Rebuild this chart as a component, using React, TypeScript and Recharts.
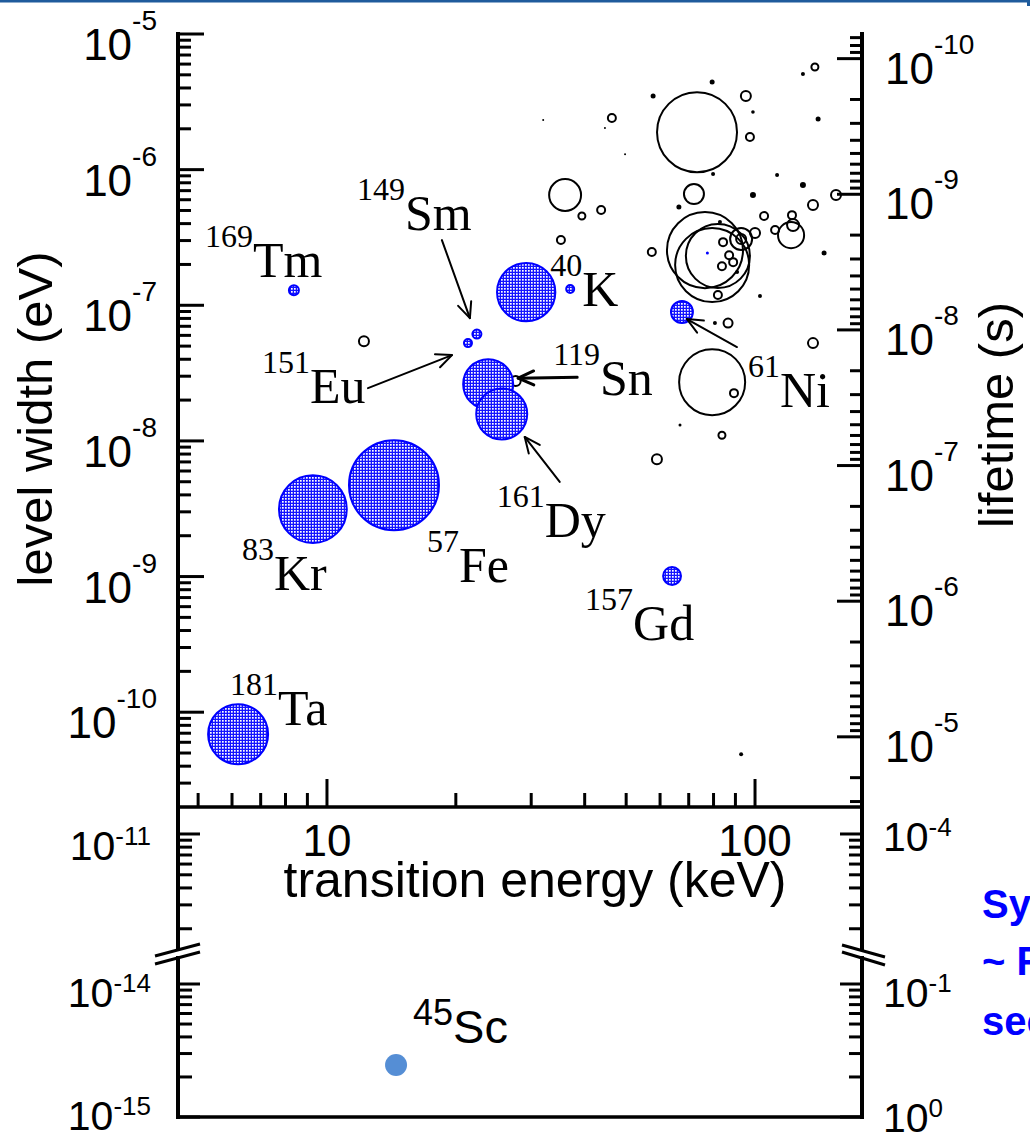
import React from 'react';
import { ScatterChart, Scatter, XAxis, YAxis, ZAxis, ReferenceDot, Label } from 'recharts';

// ---------------- values ----------------
// nuclear resonance isotopes (blue hatched bubbles), in drawing order
const ISO_ID = ['181Ta', '169Tm', '83Kr', '57Fe', '151Eu', '149Sm', '119Sn', '161Dy', '40K', '121Sb', '157Gd', '61Ni'];
const ISO_MASS = ['181', '169', '83', '57', '151', '149', '119', '161', '40', '', '157', '61'];
const ISO_SYMBOL = ['Ta', 'Tm', 'Kr', 'Fe', 'Eu', 'Sm', 'Sn', 'Dy', 'K', '', 'Gd', 'Ni'];
const ISO_ENERGY_KEV = [6.2, 8.37, 9.27, 14.34, 21.35, 22.4, 23.8, 25.6, 29.2, 37.0, 64.0, 67.5];
const ISO_WIDTH_EV = [6.88e-11, 1.29e-7, 3.14e-9, 4.72e-9, 5.26e-8, 6.13e-8, 2.62e-8, 1.58e-8, 1.25e-7, 1.32e-7, 1.01e-9, 8.91e-8];
const ISO_STRENGTH = [36, 1, 46, 81, 0.64, 0.81, 25, 26, 34, 0.64, 3.2, 4.8];

// other transitions, open circles
const OPEN_ENERGY_KEV = [73.2, 36.0, 46.3, 39.4, 43.7, 35.2, 57.4, 72.0, 95.2, 97.3, 138, 154.6, 136.6, 105, 122, 122.7, 121.4, 111.4, 100, 92.8, 92.8, 84.2, 87.0, 88.9, 83.7, 81.9, 86.5, 136.6, 79.4, 89.3, 83.7, 12.2, 59.0, 27.6, 76.4, 79.4, 81.9];
const OPEN_WIDTH_EV = [1.89e-6, 6.5e-7, 2.4e-6, 4.55e-7, 5.04e-7, 3.03e-7, 2.47e-7, 6.61e-7, 3.49e-6, 1.74e-6, 5.71e-6, 6.5e-7, 5.48e-7, 4.55e-7, 4.62e-7, 3.9e-7, 3.29e-7, 3.59e-7, 3.41e-7, 3.08e-7, 3.08e-7, 2.92e-7, 2.34e-7, 2.08e-7, 1.94e-7, 1.19e-7, 7.39e-8, 5.26e-8, 2.71e-8, 2.25e-8, 1.1e-8, 5.44e-8, 7.34e-9, 2.76e-8, 2.55e-7, 1.98e-7, 2.31e-7];
const OPEN_STRENGTH = [64, 10.2, 0.64, 0.49, 0.64, 0.64, 0.64, 4, 1, 0.64, 0.49, 1, 1, 0.64, 0.64, 1.44, 6.8, 0.64, 1, 4.84, 1, 0.64, 0.64, 0.64, 0.64, 0.64, 0.81, 1, 43.6, 0.64, 0.49, 1, 1, 1, 57.8, 54.8, 41];

// other transitions, filled dots
const DOT_ENERGY_KEV = [32.0, 57.8, 44.6, 49.7, 66.4, 79.4, 98.9, 140.4, 129.4, 79.8, 112.6, 98.9, 129.4, 82.8, 90.8, 145, 102.7, 80.6, 66.8, 92.8];
const DOT_WIDTH_EV = [2.32e-6, 3.49e-6, 2.03e-6, 1.3e-6, 5.3e-7, 4.43e-6, 2.66e-6, 2.36e-6, 5.07e-6, 9.28e-7, 9.12e-7, 6.5e-7, 7.7e-7, 4.11e-7, 1.76e-7, 2.43e-7, 1.17e-7, 7.39e-8, 1.31e-8, 4.9e-11];
const DOT_STRENGTH = [0.04, 0.25, 0.04, 0.04, 0.25, 0.25, 0.13, 0.25, 0.16, 0.16, 0.16, 0.36, 0.36, 0.16, 0.16, 0.25, 0.16, 0.16, 0.09, 0.16];

// tiny blue dot
const SPOT_ENERGY_KEV = [77.4];
const SPOT_WIDTH_EV = [2.43e-7];
const SPOT_STRENGTH = [0.09];

// 45Sc (below the axis break)
const SC_MASS = '45';
const SC_SYMBOL = 'Sc';
const SC_ENERGY_KEV = [14.5];
const SC_WIDTH_EV = [2.46e-15];
const SC_STRENGTH = [4.84];

// axes
const HBAR_EV_S = 6.582e-16;
const X_TICKS = [5, 6, 7, 8, 9, 10, 20, 30, 40, 50, 60, 70, 80, 90, 100];
const MULTS = [1, 2, 3, 4, 5, 6, 7, 8, 9];
const UPPER_DECADES = [-11, -10, -9, -8, -7, -6, -5];
const MID_DECADES = [-12, -11];
const LOW_DECADES = [-15, -14];
const X_TITLE = 'transition energy (keV)';
const Y_TITLE = 'level width (eV)';
const Y2_TITLE = 'lifetime (s)';
const SIDE_TEXT = ['Synchrotron', '~ Few', 'seconds'];

// ---------------- layout / style ----------------
const W = 1030;
const H = 1137;
const PLOT_L = 178;
const PLOT_R = 862;
const UP_TOP = 34;
const UP_BOTTOM = 807;
const MID_BOTTOM = 951;
const LOW_TOP = 958;
const LOW_BOTTOM = 1117;
const SANS = "'Liberation Sans', Arial, Helvetica, sans-serif";
const SERIF = "'Liberation Serif', 'Times New Roman', serif";
const BLUE = '#0000ff';

const X_DOMAIN: [number, number] = [4.487, 177.8];
const W_UP_DOMAIN: [number, number] = [2e-11, 1e-5];
const T_UP_DOMAIN: [number, number] = [HBAR_EV_S / W_UP_DOMAIN[1], HBAR_EV_S / W_UP_DOMAIN[0]];
const W_MID_DOMAIN: [number, number] = [Math.pow(10, -11.863), Math.pow(10, -10.801)];
const W_LOW_DOMAIN: [number, number] = [1e-15, Math.pow(10, -13.8045)];

const LABEL_LAYOUT: Record<string, { dx: number; dy: number; arrow?: number[]; aw?: number }> = {
  '169Tm': { dx: -89, dy: -13 },
  '149Sm': { dx: -120, dy: -104, arrow: [-35, -94, -7, -16] },
  '151Eu': { dx: -206, dy: 60, arrow: [-100, 45, -16, 12] },
  '119Sn': { dx: 65, dy: 11, arrow: [89, -7, 30, -6], aw: 3 },
  '40K': { dx: 24, dy: 14 },
  '61Ni': { dx: 66, dy: 95, arrow: [55, 35, 5, 7] },
  '161Dy': { dx: -5, dy: 123, arrow: [58, 68, 23, 23] },
  '57Fe': { dx: 33, dy: 97 },
  '83Kr': { dx: -71, dy: 81 },
  '157Gd': { dx: -87, dy: 64 },
  '181Ta': { dx: -8, dy: -9 },
};

const LOWER_LABEL_DY: Record<string, number> = { '-11': 26, '-14': 23, '-15': 13, '-4': 17, '-1': 23, '0': 15 };

// ---------------- helpers ----------------
const zip = (xs: number[], ys: number[], zs: number[]) => xs.map((x, i) => ({ x, y: ys[i], z: zs[i] }));

const isMajor = (v: number) => {
  const l = Math.log10(v);
  return Math.abs(l - Math.round(l)) < 1e-6;
};

const buildTicks = (decades: number[], lo: number, hi: number, inclLo = false) => {
  const out: number[] = [];
  decades.forEach((d) => MULTS.forEach((m) => {
    const v = m * Math.pow(10, d);
    const okLo = inclLo ? v >= lo * 0.9999 : v > lo * 1.0001;
    if (okLo && v <= hi * 1.0001) out.push(v);
  }));
  return out;
};

const radiusOf = (p: any) => (p.size != null ? Math.sqrt(Math.max(p.size, 0) / Math.PI) : (p.width || 0) / 2);

const OpenShape = (p: any) => <circle cx={p.cx} cy={p.cy} r={radiusOf(p)} fill="none" stroke="#000" strokeWidth={2} />;
const DotShape = (p: any) => <circle cx={p.cx} cy={p.cy} r={Math.max(radiusOf(p), 1)} fill="#000" />;
const SpotShape = (p: any) => <circle cx={p.cx} cy={p.cy} r={Math.max(radiusOf(p), 1)} fill={BLUE} />;
const HatchShape = (p: any) => <circle cx={p.cx} cy={p.cy} r={radiusOf(p)} fill="url(#mbHatch)" stroke={BLUE} strokeWidth={2} />;
const ScShape = (p: any) => <circle cx={p.cx} cy={p.cy} r={radiusOf(p)} fill="#558ed5" />;

type YTickCfg = {
  side: 'left' | 'right';
  majorLen: number;
  minorLen: number;
  gap: number;
  big: number;
  small: number;
  rise: number;
  dy: (expText: string) => number;
  exp: (v: number) => string;
};

const makeYTick = (cfg: YTickCfg) => (props: any) => {
  const { x, y, payload } = props;
  const v = payload.value as number;
  const major = isMajor(v);
  const dir = cfg.side === 'left' ? 1 : -1;
  const len = major ? cfg.majorLen : cfg.minorLen;
  const e = cfg.exp(v);
  return (
    <g>
      <line x1={x} y1={y} x2={x + dir * len} y2={y} stroke="#000" strokeWidth={3} />
      {major && (
        <text
          x={cfg.side === 'left' ? x - cfg.gap : x + cfg.gap}
          y={y + cfg.dy(e)}
          textAnchor={cfg.side === 'left' ? 'end' : 'start'}
          fontFamily={SANS}
          fill="#000"
        >
          <tspan fontSize={cfg.big}>10</tspan>
          <tspan fontSize={cfg.small} dy={-cfg.rise}>{e}</tspan>
        </text>
      )}
    </g>
  );
};

const makeXTick = (side: 'top' | 'bottom') => (props: any) => {
  const { x, y, payload } = props;
  const v = payload.value as number;
  const major = isMajor(v);
  const len = major ? 28 : 14;
  const dir = side === 'top' ? 1 : -1;
  return (
    <g>
      <line x1={x} y1={y} x2={x} y2={y + dir * len} stroke="#000" strokeWidth={3} />
      {side === 'bottom' && major && (
        <text x={x} y={y + 49} textAnchor="middle" fontFamily={SANS} fontSize={44} fill="#000">{String(v)}</text>
      )}
    </g>
  );
};

const expOf = (v: number) => String(Math.round(Math.log10(v)));
const lowerRightExp = (v: number) => String(-Math.round(Math.log10(v)) - 15);

const upLeftTick = makeYTick({ side: 'left', majorLen: 26, minorLen: 13, gap: 21, big: 44, small: 28, rise: 30, dy: () => 26, exp: expOf });
const upRightTick = makeYTick({ side: 'right', majorLen: 25, minorLen: 12, gap: 23, big: 44, small: 28, rise: 30, dy: () => 25, exp: expOf });
const lowLeftTick = makeYTick({ side: 'left', majorLen: 22, minorLen: 14, gap: 27, big: 41, small: 26, rise: 15, dy: (e) => LOWER_LABEL_DY[e] ?? 20, exp: expOf });
const lowRightTick = makeYTick({ side: 'right', majorLen: 22, minorLen: 13, gap: 21, big: 41, small: 26, rise: 15, dy: (e) => LOWER_LABEL_DY[e] ?? 20, exp: lowerRightExp });

const Arrow = ({ x1, y1, x2, y2, w }: { x1: number; y1: number; x2: number; y2: number; w: number }) => {
  const ang = Math.atan2(y2 - y1, x2 - x1);
  const L = 17;
  const s = 0.42;
  const a1 = ang + Math.PI - s;
  const a2 = ang + Math.PI + s;
  return (
    <g stroke="#000" strokeWidth={w} fill="none" strokeLinecap="round" strokeLinejoin="round">
      <line x1={x1} y1={y1} x2={x2} y2={y2} />
      <polyline points={`${x2 + L * Math.cos(a1)},${y2 + L * Math.sin(a1)} ${x2},${y2} ${x2 + L * Math.cos(a2)},${y2 + L * Math.sin(a2)}`} />
    </g>
  );
};

const makeAnnotation = (i: number) => (p: any) => {
  const lay = LABEL_LAYOUT[ISO_ID[i]];
  const { cx, cy } = p;
  if (!lay || cx == null) return <g />;
  const a = lay.arrow;
  return (
    <g>
      <text x={cx + lay.dx} y={cy + lay.dy} fontFamily={SERIF} fill="#000">
        <tspan fontSize={32} dy={-30}>{ISO_MASS[i]}</tspan>
        <tspan fontSize={50} dy={30}>{ISO_SYMBOL[i]}</tspan>
      </text>
      {a && <Arrow x1={cx + a[0]} y1={cy + a[1]} x2={cx + a[2]} y2={cy + a[3]} w={lay.aw ?? 2} />}
    </g>
  );
};

const ScAnnotation = (p: any) => (
  <text x={p.cx + 17} y={p.cy - 22} fontFamily={SANS} fill="#000">
    <tspan fontSize={36} dy={-18}>{SC_MASS}</tspan>
    <tspan fontSize={47} dy={18}>{SC_SYMBOL}</tspan>
  </text>
);

const XTitle = () => (
  <text x={535} y={897} textAnchor="middle" fontFamily={SANS} fontSize={50} fill="#000">{X_TITLE}</text>
);
const YTitle = () => (
  <text transform="translate(52, 419) rotate(-90)" textAnchor="middle" fontFamily={SANS} fontSize={49} fill="#000">{Y_TITLE}</text>
);
const Y2Title = () => (
  <text transform="translate(1013, 415) rotate(-90)" textAnchor="middle" fontFamily={SANS} fontSize={49} fill="#000">{Y2_TITLE}</text>
);

// ---------------- data tables for the library ----------------
const isoData = zip(ISO_ENERGY_KEV, ISO_WIDTH_EV, ISO_STRENGTH);
const openData = zip(OPEN_ENERGY_KEV, OPEN_WIDTH_EV, OPEN_STRENGTH);
const dotData = zip(DOT_ENERGY_KEV, DOT_WIDTH_EV, DOT_STRENGTH);
const spotData = zip(SPOT_ENERGY_KEV, SPOT_WIDTH_EV, SPOT_STRENGTH);
const scData = zip(SC_ENERGY_KEV, SC_WIDTH_EV, SC_STRENGTH);

const upLeftTicks = buildTicks(UPPER_DECADES, W_UP_DOMAIN[0], W_UP_DOMAIN[1]);
const upRightTicks = buildTicks(UPPER_DECADES, T_UP_DOMAIN[0], T_UP_DOMAIN[1]);
const midTicks = buildTicks(MID_DECADES, W_MID_DOMAIN[0], W_MID_DOMAIN[1]);
const lowTicks = buildTicks(LOW_DECADES, W_LOW_DOMAIN[0], W_LOW_DOMAIN[1], true);

const Z = <ZAxis type="number" dataKey="z" domain={[0, 100]} range={[0, 2500 * Math.PI]} />;
const abs: React.CSSProperties = { position: 'absolute', left: 0, top: 0 };
const frame = { stroke: '#000', strokeWidth: 4, strokeLinecap: 'square' as const };

export default function App() {
  return (
    <div style={{ position: 'absolute', left: 0, top: 0, width: W, height: H, background: '#fff', overflow: 'hidden' }}>
      {/* lower panel (below the axis break) */}
      <div style={abs}>
        <ScatterChart width={W} height={H} margin={{ top: LOW_TOP, right: 0, bottom: 0, left: 0 }}>
          <XAxis xAxisId="e" type="number" dataKey="x" scale="log" domain={X_DOMAIN} allowDataOverflow orientation="bottom" height={H - LOW_BOTTOM} tick={false} tickLine={false} axisLine={{ stroke: '#000', strokeWidth: 3.5 }} />
          <YAxis yAxisId="w" type="number" dataKey="y" scale="log" domain={W_LOW_DOMAIN} allowDataOverflow orientation="left" width={PLOT_L} ticks={lowTicks} interval={0} tickSize={0} tickMargin={0} tickLine={false} tick={lowLeftTick} axisLine={frame} />
          <YAxis yAxisId="t" type="number" scale="log" domain={W_LOW_DOMAIN} allowDataOverflow orientation="right" width={W - PLOT_R} ticks={lowTicks} interval={0} tickSize={0} tickMargin={0} tickLine={false} tick={lowRightTick} axisLine={frame} />
          {Z}
          <Scatter xAxisId="e" yAxisId="w" data={scData} shape={ScShape} isAnimationActive={false} />
          <Scatter xAxisId="e" yAxisId="t" data={[]} isAnimationActive={false} />
          <ReferenceDot xAxisId="e" yAxisId="w" x={SC_ENERGY_KEV[0]} y={SC_WIDTH_EV[0]} r={0} shape={ScAnnotation} />
        </ScatterChart>
      </div>

      {/* middle strip (10^-11 decade, above the break) */}
      <div style={abs}>
        <ScatterChart width={W} height={H} margin={{ top: UP_BOTTOM, right: 0, bottom: H - MID_BOTTOM, left: 0 }}>
          <XAxis xAxisId="e" type="number" dataKey="x" scale="log" domain={X_DOMAIN} allowDataOverflow hide />
          <YAxis yAxisId="w" type="number" dataKey="y" scale="log" domain={W_MID_DOMAIN} allowDataOverflow orientation="left" width={PLOT_L} ticks={midTicks} interval={0} tickSize={0} tickMargin={0} tickLine={false} tick={lowLeftTick} axisLine={{ stroke: '#000', strokeWidth: 4 }} />
          <YAxis yAxisId="t" type="number" scale="log" domain={W_MID_DOMAIN} allowDataOverflow orientation="right" width={W - PLOT_R} ticks={midTicks} interval={0} tickSize={0} tickMargin={0} tickLine={false} tick={lowRightTick} axisLine={{ stroke: '#000', strokeWidth: 4 }} />
          <Scatter xAxisId="e" yAxisId="w" data={[]} isAnimationActive={false} />
          <Scatter xAxisId="e" yAxisId="t" data={[]} isAnimationActive={false} />
        </ScatterChart>
      </div>

      {/* main panel */}
      <div style={abs}>
        <ScatterChart width={W} height={H} margin={{ top: UP_TOP, right: 0, bottom: 0, left: 0 }}>
          <defs>
            <pattern id="mbHatch" width="3" height="3" patternUnits="userSpaceOnUse">
              <rect x="0" y="0" width="3" height="3" fill="#1414ff" />
              <rect x="0" y="0" width="1.7" height="1.7" fill="#ffffff" />
            </pattern>
          </defs>
          <XAxis xAxisId="e" type="number" dataKey="x" scale="log" domain={X_DOMAIN} allowDataOverflow orientation="bottom" height={H - UP_BOTTOM} ticks={X_TICKS} interval={0} tickSize={0} tickMargin={0} tickLine={false} tick={makeXTick('bottom')} axisLine={{ stroke: '#000', strokeWidth: 3.5 }}>
            <Label content={XTitle} />
          </XAxis>
          <XAxis xAxisId="top" type="number" scale="log" domain={X_DOMAIN} allowDataOverflow orientation="top" height={0} ticks={X_TICKS} interval={0} tickSize={0} tickMargin={0} tickLine={false} tick={makeXTick('top')} axisLine={frame} />
          <YAxis yAxisId="w" type="number" dataKey="y" scale="log" domain={W_UP_DOMAIN} allowDataOverflow orientation="left" width={PLOT_L} ticks={upLeftTicks} interval={0} tickSize={0} tickMargin={0} tickLine={false} tick={upLeftTick} axisLine={frame}>
            <Label content={YTitle} />
          </YAxis>
          <YAxis yAxisId="t" type="number" scale="log" reversed domain={T_UP_DOMAIN} allowDataOverflow orientation="right" width={W - PLOT_R} ticks={upRightTicks} interval={0} tickSize={0} tickMargin={0} tickLine={false} tick={upRightTick} axisLine={frame}>
            <Label content={Y2Title} />
          </YAxis>
          {Z}
          <Scatter name="other transitions" xAxisId="e" yAxisId="w" data={openData} shape={OpenShape} isAnimationActive={false} />
          <Scatter name="other transitions (weak)" xAxisId="e" yAxisId="w" data={dotData} shape={DotShape} isAnimationActive={false} />
          <Scatter name="resonant isotopes" xAxisId="e" yAxisId="w" data={isoData} shape={HatchShape} isAnimationActive={false} />
          <Scatter name="spot" xAxisId="e" yAxisId="w" data={spotData} shape={SpotShape} isAnimationActive={false} />
          <Scatter xAxisId="top" yAxisId="t" data={[]} isAnimationActive={false} />
          {ISO_ID.map((id, i) =>
            LABEL_LAYOUT[id] ? (
              <ReferenceDot key={id} xAxisId="e" yAxisId="w" x={ISO_ENERGY_KEV[i]} y={ISO_WIDTH_EV[i]} r={0} shape={makeAnnotation(i)} />
            ) : null
          )}
        </ScatterChart>
      </div>

      {/* decorations: header rule, axis breaks, side note */}
      <svg width={W} height={H} style={{ ...abs, pointerEvents: 'none' }}>
        <rect x={0} y={0} width={W} height={2.5} fill="#1f5b9c" />
        <rect x={W - 3} y={0} width={3} height={6} fill="#1f5b9c" />
        <g stroke="#000" strokeWidth={3}>
          <line x1={155} y1={956} x2={200} y2={944} />
          <line x1={155} y1={964} x2={200} y2={952} />
          <line x1={842} y1={945} x2={885} y2={957} />
          <line x1={842} y1={952} x2={885} y2={965} />
        </g>
        <g fontFamily={SANS} fontWeight={700} fontSize={40} fill={BLUE}>
          <text x={982} y={918}>{SIDE_TEXT[0]}</text>
          <text x={982} y={975}>{SIDE_TEXT[1]}</text>
          <text x={982} y={1035}>{SIDE_TEXT[2]}</text>
        </g>
      </svg>
    </div>
  );
}
